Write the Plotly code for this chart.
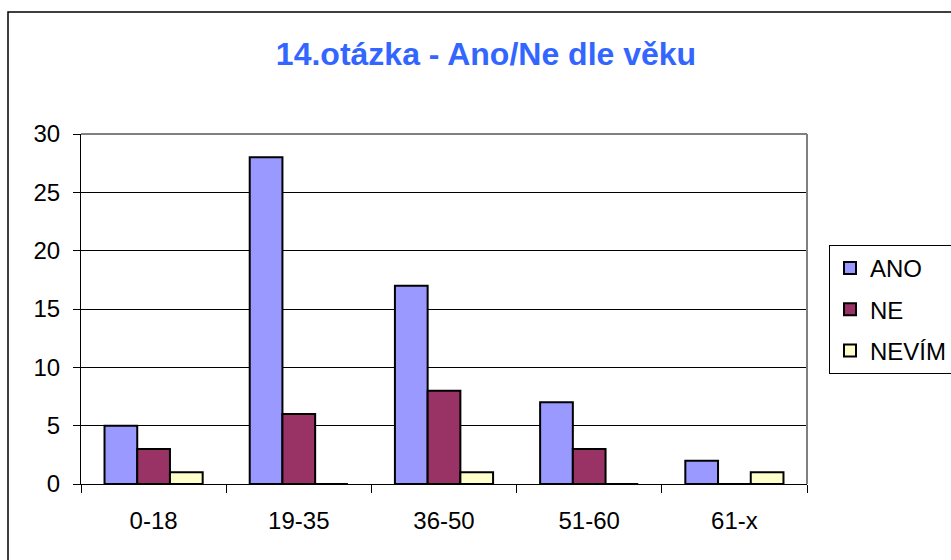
import plotly.graph_objects as go

categories = ["0-18", "19-35", "36-50", "51-60", "61-x"]
ano = [5, 28, 17, 7, 2]
ne = [3, 6, 8, 3, 0]
nevim = [1, 0, 1, 0, 1]
series_names = ["ANO", "NE", "NEVÍM"]
colors = ["#9999FF", "#993366", "#FFFFCC"]

FONT = "Arial, 'Liberation Sans', sans-serif"

fig = go.Figure()
for i, (name, vals, col) in enumerate(zip(series_names, [ano, ne, nevim], colors)):
    fig.add_trace(go.Bar(
        x=categories, y=vals, name=name, legendgroup=name,
        marker=dict(color=col, line=dict(color="black", width=2)),
    ))

L, R, T, B = 81, 807, 134, 484
W, H = 951, 560

fig.update_layout(
    width=W, height=H,
    margin=dict(l=L, r=W - R, t=T, b=H - B, pad=0, autoexpand=False),
    paper_bgcolor="white", plot_bgcolor="white",
    barmode="group", bargap=0.324, bargroupgap=0,
    font=dict(family=FONT, size=24, color="black"),
    title=dict(text="<b>14.otázka - Ano/Ne dle věku</b>",
               font=dict(family=FONT, size=32, color="#3366FF"),
               x=486 / W, xanchor="center", xref="container",
               y=1 - 54 / H, yanchor="middle", yref="container"),
    legend=dict(x=829 / W, xanchor="left", xref="container",
                y=1 - 245 / H, yanchor="top", yref="container",
                bordercolor="black", borderwidth=1, bgcolor="white",
                font=dict(family=FONT, size=24, color="black"),
                traceorder="grouped", tracegroupgap=7),
    showlegend=True,
)
fig.update_xaxes(
    showline=True, linecolor="black", linewidth=1,
    ticks="outside", tickson="boundaries", ticklen=8, tickcolor="black",
    ticklabelstandoff=15, showgrid=False,
    tickfont=dict(family=FONT, size=24, color="black"),
)
fig.update_yaxes(
    range=[0, 30], dtick=5, tick0=0,
    showline=True, linecolor="black", linewidth=1,
    ticks="outside", ticklen=7, tickcolor="black",
    ticklabelstandoff=8,
    showgrid=True, gridcolor="black", gridwidth=1,
    zeroline=False,
    tickfont=dict(family=FONT, size=24, color="black"),
)

# plot area grey border (top and right)
fig.add_shape(type="line", xref="paper", yref="paper", x0=0, x1=1, y0=1, y1=1,
              line=dict(color="#808080", width=2))
fig.add_shape(type="line", xref="paper", yref="paper", x0=1, x1=1, y0=0, y1=1,
              line=dict(color="#808080", width=2))
# outer chart-area frame (extends past right/bottom edges)
fig.add_shape(type="rect", xref="paper", yref="paper",
              x0=(8 - L) / (R - L), x1=1.5,
              y0=-0.5, y1=(B - 12) / (B - T),
              line=dict(color="black", width=1.5), fillcolor="rgba(0,0,0,0)")

fig.write_html("out.html", config={"displayModeBar": False},
               post_script="document.body.style.margin='0';document.body.style.overflow='hidden';")
